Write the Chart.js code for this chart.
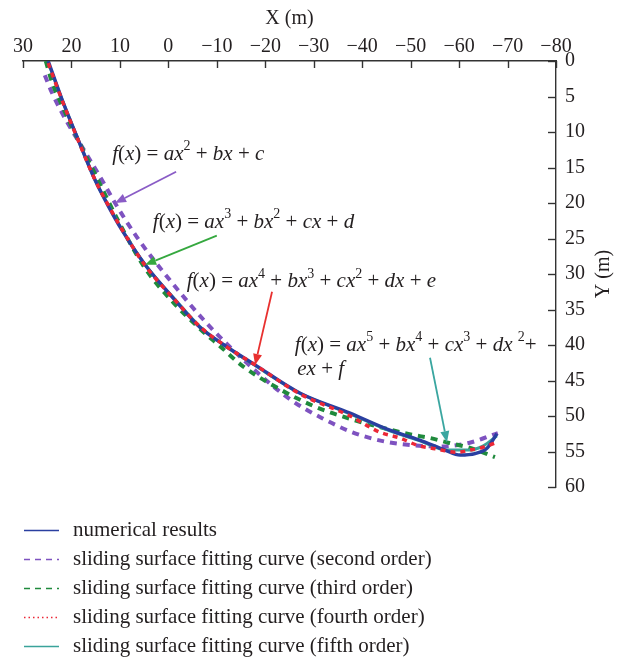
<!DOCTYPE html>
<html><head><meta charset="utf-8">
<script src="https://cdn.jsdelivr.net/npm/chart.js@4.4.1/dist/chart.umd.min.js"></script>
<style>html,body{margin:0;padding:0;background:#fff;}#wrap{width:618px;height:661px;}</style>
</head><body><div id="wrap"><canvas id="c" width="618" height="661"></canvas></div>
<script>
// ---- tick labels ----
const xTicks = [30, 20, 10, 0, -10, -20, -30, -40, -50, -60, -70, -80];
const yTicks = [0, 5, 10, 15, 20, 25, 30, 35, 40, 45, 50, 55, 60];

// ---- series names ----
const seriesNames = [
  'numerical results',
  'sliding surface fitting curve (second order)',
  'sliding surface fitting curve (third order)',
  'sliding surface fitting curve (fourth order)',
  'sliding surface fitting curve (fifth order)'
];

// ---- series values (X, Y in m) ----
const numericalX = [24.8, 21.9, 18.6, 15.1, 12.5, 9.6, 4.8, -1.4, -6.5, -11.5, -17.9, -27.2, -37.5, -45.7, -51.9, -57.1, -60.2, -63.3, -65.8, -67.8];
const numericalY = [0, 5.5, 11.1, 16.8, 20.3, 23.8, 28.7, 33.7, 37.5, 40.0, 42.8, 46.8, 49.6, 52.0, 53.4, 54.8, 55.5, 55.3, 54.5, 52.5];

const secondX = [25.5, 24, 20.9, 17, 13.5, 11, 6.5, 0, -8, -16, -25, -32, -38, -44, -50, -56, -62, -68];
const secondY = [2.0, 4.5, 8.6, 13.0, 17.0, 20.0, 24.8, 30.6, 37.0, 42.4, 47.6, 50.4, 52.3, 53.5, 54.1, 54.3, 53.8, 52.4];

const thirdX = [25.3, 24, 22, 18.5, 14.7, 10.5, 5, -1, -6.5, -10.7, -15.4, -22.4, -30, -38, -45, -50, -54, -58, -62.3, -67.4];
const thirdY = [0, 3.0, 6.2, 11.3, 16.5, 22.3, 29, 34, 37.7, 40.2, 43.0, 46.0, 48.6, 50.5, 51.8, 52.6, 53.1, 53.8, 54.5, 55.8];

const fourthX = [24.8, 21.9, 18.6, 15.1, 12.4, 9.5, 4.8, -1.4, -6.5, -11.5, -17.9, -27.2, -37.5, -43.7, -47.8, -51.3, -55, -59.6, -62.3, -64.9, -67.8];
const fourthY = [0.3, 5.6, 11.2, 16.8, 20.3, 23.8, 28.8, 33.7, 37.4, 40.0, 42.8, 46.9, 50.0, 52.3, 53.1, 54.1, 54.6, 55.1, 54.8, 54.4, 53.7];

const fifthX = [24.8, 21.9, 18.6, 15.1, 12.4, 9.5, 4.8, -1.4, -6.5, -11.5, -17.9, -27.2, -37.5, -45.7, -51.9, -57.5, -62, -65, -67.8];
const fifthY = [0.2, 5.5, 11.1, 16.8, 20.3, 23.8, 28.7, 33.6, 37.4, 40.0, 42.9, 46.8, 49.7, 52.1, 53.5, 54.8, 54.8, 54.2, 52.8];

// ---- annotations (data coordinates) ----
const formulas = [
  { text: 'f(x) = ax^2 + bx + c', X: 11.6, Y: 13.2 },
  { text: 'f(x) = ax^3 + bx^2 + cx + d', X: 3.2, Y: 22.7 },
  { text: 'f(x) = ax^4 + bx^3 + cx^2 + dx + e', X: -3.8, Y: 31.1 },
  { text: 'f(x) = ax^5 + bx^4 + cx^3 + dx ^2+', X: -26.1, Y: 40.0 },
  { text: 'ex + f', X: -26.6, Y: 43.4 }
];
const arrows = [
  { fromX: -1.6, fromY: 15.6, toX: 11.0, toY: 20.0, color: '#8a5cc6' },
  { fromX: -10.0, fromY: 24.6, toX: 4.8, toY: 28.7, color: '#35a83f' },
  { fromX: -21.4, fromY: 32.5, toX: -17.9, toY: 42.8, color: '#e8302f' },
  { fromX: -54.0, fromY: 41.8, toX: -57.5, toY: 53.7, color: '#3aa6a0' }
];

const SERIF = '"Liberation Serif", "DejaVu Serif", serif';
const TEXT = '#231f20';
const fmt = v => (v < 0 ? '\u2212' + Math.abs(v) : String(v));
const pts = (xs, ys) => xs.map((x, i) => ({ x: x, y: ys[i] }));

const styles = [
  { color: '#2a3fa0', width: 3.4, dash: [], order: 1, legendDash: [] },
  { color: '#7e52c0', width: 4, dash: [7, 6], order: 4, legendDash: [6, 5] },
  { color: '#1f8a3c', width: 4, dash: [7, 6], order: 3, legendDash: [6, 5] },
  { color: '#ec2736', width: 3.5, dash: [5, 5], order: 0, legendDash: [1.5, 3] },
  { color: '#3aa39a', width: 3, dash: [], order: 2, legendDash: [] }
];
const seriesData = [
  pts(numericalX, numericalY),
  pts(secondX, secondY),
  pts(thirdX, thirdY),
  pts(fourthX, fourthY),
  pts(fifthX, fifthY)
];

const datasets = seriesNames.map((name, i) => ({
  label: name,
  data: seriesData[i],
  showLine: true,
  borderColor: styles[i].color,
  backgroundColor: styles[i].color,
  borderWidth: styles[i].width,
  borderDash: styles[i].dash,
  borderCapStyle: 'butt',
  pointRadius: 0,
  cubicInterpolationMode: 'monotone',
  fill: false,
  order: styles[i].order
}));

function parseRich(s) {
  const out = [];
  for (let i = 0; i < s.length; i++) {
    const c = s[i];
    if (c === '^') { out.push({ t: s[i + 1], k: 'sup' }); i++; }
    else if (/[a-z]/.test(c)) out.push({ t: c, k: 'it' });
    else out.push({ t: c, k: 'n' });
  }
  return out;
}
function drawRich(ctx, s, x, y, size) {
  const runs = parseRich(s);
  ctx.textBaseline = 'middle';
  ctx.textAlign = 'left';
  ctx.fillStyle = TEXT;
  let cx = x;
  runs.forEach(r => {
    let yy = y;
    if (r.k === 'it') ctx.font = 'italic ' + size + 'px ' + SERIF;
    else if (r.k === 'sup') { ctx.font = Math.round(size * 0.65) + 'px ' + SERIF; yy = y - size * 0.38; }
    else ctx.font = size + 'px ' + SERIF;
    ctx.fillText(r.t, cx, yy);
    cx += ctx.measureText(r.t).width;
  });
}
function drawArrow(ctx, x1, y1, x2, y2, color) {
  const ang = Math.atan2(y2 - y1, x2 - x1);
  const hl = 11, hw = 4.5;
  const bx = x2 - hl * Math.cos(ang), by = y2 - hl * Math.sin(ang);
  ctx.strokeStyle = color; ctx.fillStyle = color; ctx.lineWidth = 1.8; ctx.setLineDash([]);
  ctx.beginPath(); ctx.moveTo(x1, y1); ctx.lineTo(bx, by); ctx.stroke();
  ctx.beginPath();
  ctx.moveTo(x2, y2);
  ctx.lineTo(bx + hw * Math.sin(ang), by - hw * Math.cos(ang));
  ctx.lineTo(bx - hw * Math.sin(ang), by + hw * Math.cos(ang));
  ctx.closePath(); ctx.fill();
}

const decor = {
  id: 'decor',
  afterDatasetsDraw(chart) {
    const ctx = chart.ctx, xs = chart.scales.x, ys = chart.scales.y, ca = chart.chartArea;
    ctx.save();
    // inward tick marks
    ctx.strokeStyle = '#333'; ctx.lineWidth = 1.4; ctx.setLineDash([]);
    xs.ticks.forEach(t => {
      const px = Math.round(xs.getPixelForValue(t.value)) + 0.5;
      ctx.beginPath(); ctx.moveTo(px, ca.top); ctx.lineTo(px, ca.top + 7); ctx.stroke();
    });
    ys.ticks.forEach(t => {
      const py = Math.round(ys.getPixelForValue(t.value)) + 0.5;
      ctx.beginPath(); ctx.moveTo(ca.right - 8, py); ctx.lineTo(ca.right, py); ctx.stroke();
    });
    // arrows
    arrows.forEach(a => drawArrow(ctx, xs.getPixelForValue(a.fromX), ys.getPixelForValue(a.fromY),
      xs.getPixelForValue(a.toX), ys.getPixelForValue(a.toY), a.color));
    // formulas
    formulas.forEach(f => drawRich(ctx, f.text, xs.getPixelForValue(f.X), ys.getPixelForValue(f.Y), 21));
    // y axis title, reading upward
    ctx.save();
    ctx.translate(604, (ca.top + ca.bottom) / 2);
    ctx.rotate(-Math.PI / 2);
    ctx.font = '20px ' + SERIF; ctx.fillStyle = TEXT; ctx.textAlign = 'center'; ctx.textBaseline = 'middle';
    ctx.fillText('Y (m)', 0, 0);
    ctx.restore();
    // legend
    const rowY0 = ca.bottom + 43, rowH = 29;
    chart.data.datasets.forEach((d, i) => {
      const y = rowY0 + i * rowH;
      ctx.strokeStyle = d.borderColor; ctx.lineWidth = 1.6;
      ctx.setLineDash(styles[i].legendDash);
      ctx.beginPath(); ctx.moveTo(24, y + 0.5); ctx.lineTo(59, y + 0.5); ctx.stroke();
      ctx.setLineDash([]);
      ctx.font = '21px ' + SERIF; ctx.fillStyle = TEXT; ctx.textAlign = 'left'; ctx.textBaseline = 'middle';
      ctx.fillText(d.label, 73, y);
    });
    ctx.restore();
  }
};

new Chart(document.getElementById('c'), {
  type: 'scatter',
  data: { datasets: datasets },
  options: {
    responsive: false,
    animation: false,
    devicePixelRatio: 1,
    layout: { padding: { left: 23, right: 0, top: 0, bottom: 174 } },
    plugins: { legend: { display: false }, tooltip: { enabled: false } },
    scales: {
      x: {
        type: 'linear', position: 'top', min: -80, max: 30, reverse: true,
        afterBuildTicks: s => { s.ticks = xTicks.map(v => ({ value: v })); },
        afterFit: s => { s.height = 61; },
        ticks: { callback: v => fmt(v), font: { family: SERIF, size: 20 }, color: TEXT, padding: 2, maxRotation: 0, autoSkip: false },
        grid: { display: false, drawTicks: false },
        border: { display: true, color: '#333', width: 1.4 },
        title: { display: true, text: 'X (m)', font: { family: SERIF, size: 20 }, color: TEXT, padding: { top: 7, bottom: 0 } }
      },
      y: {
        type: 'linear', position: 'right', min: 0, max: 60, reverse: true,
        afterBuildTicks: s => { s.ticks = yTicks.map(v => ({ value: v })); },
        afterFit: s => { s.width = 62; },
        ticks: { callback: v => fmt(v), font: { family: SERIF, size: 20 }, color: TEXT, padding: 9, autoSkip: false },
        grid: { display: false, drawTicks: false },
        border: { display: true, color: '#333', width: 1.4 }
      }
    }
  },
  plugins: [decor]
});
</script>
</body></html>
